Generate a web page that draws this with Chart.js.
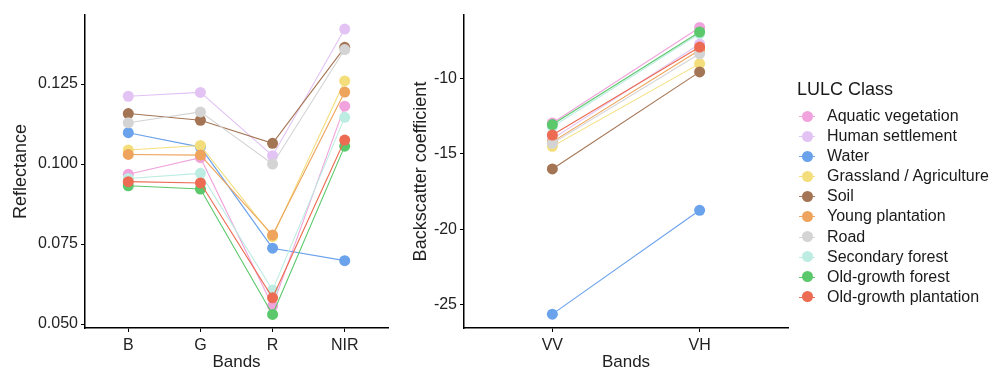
<!DOCTYPE html>
<html>
<head>
<meta charset="utf-8">
<script src="https://cdn.jsdelivr.net/npm/chart.js@4.4.1/dist/chart.umd.min.js"></script>
<style>
  body { margin: 0; background: #fff; font-family: "Liberation Sans", Arial, sans-serif; }
  #wrap { position: relative; width: 992px; height: 373px; overflow: hidden; }
  .panel { position: absolute; top: 0; }
  #legend { position: absolute; left: 797px; top: 76px; color: #1a1a1a; }
  #legend .ttl { font-size: 18px; height: 30px; line-height: 26px; }
  #legend .row { position: relative; height: 20.1px; line-height: 20px; font-size: 16px; padding-left: 30px; white-space: nowrap; }
  #legend .ln { position: absolute; left: 2px; top: 10px; width: 16px; height: 1px; }
  #legend .pt { position: absolute; left: 4.5px; top: 4.5px; width: 11px; height: 11px; border-radius: 50%; }
</style>
</head>
<body>
<div id="wrap">
  <div class="panel" style="left:0"><canvas id="refl" width="400" height="373"></canvas></div>
  <div class="panel" style="left:400px"><canvas id="back" width="400" height="373"></canvas></div>
  <div id="legend"></div>
</div>
<script>
// land use / land cover classes (legend order)
const classes = ['Aquatic vegetation', 'Human settlement', 'Water', 'Grassland / Agriculture', 'Soil',
  'Young plantation', 'Road', 'Secondary forest', 'Old-growth forest', 'Old-growth plantation'];
const colores = ['#F0A3DC', '#E2C3F4', '#6AA2EC', '#F4DE7C', '#A47554',
  '#EEA45C', '#D4D4D4', '#BDEDE2', '#5CC86C', '#EC6B52'];

// optical bands: B, G, R, NIR
const bandasOpticas = ['B', 'G', 'R', 'NIR'];
const reflectancia = [
  [0.0968, 0.1020, 0.0556, 0.1181],  // Aquatic vegetation
  [0.1212, 0.1224, 0.1026, 0.1422],  // Human settlement
  [0.1098, 0.1053, 0.0737, 0.0698],  // Water
  [0.1044, 0.1058, 0.0773, 0.1260],  // Grassland / Agriculture
  [0.1158, 0.1137, 0.1065, 0.1365],  // Soil
  [0.1030, 0.1028, 0.0778, 0.1225],  // Young plantation
  [0.1129, 0.1163, 0.1000, 0.1358],  // Road
  [0.0955, 0.0971, 0.0606, 0.1146],  // Secondary forest
  [0.0932, 0.0922, 0.0530, 0.1056],  // Old-growth forest
  [0.0945, 0.0941, 0.0582, 0.1075]   // Old-growth plantation
];
const ticksRefl = [0.050, 0.075, 0.100, 0.125];

// radar bands: VV, VH
const bandasRadar = ['VV', 'VH'];
const retroespalhamento = [
  [-12.95, -6.60],
  [-14.00, -7.70],
  [-25.65, -18.75],
  [-14.50, -9.00],
  [-16.00, -9.55],
  [-14.20, -8.10],
  [-14.30, -8.35],
  [-13.20, -7.00],
  [-13.05, -6.90],
  [-13.75, -7.90]
];
const ticksBack = [-25, -20, -15, -10];

const corTexto = '#222';
const fonte = 'Liberation Sans, Arial, sans-serif';

function criarPainel(id, bandas, valores, ticksY, yMin, yMax, tituloY, larguraY, casas) {
  const datasets = valores.map(function (serie, i) {
    return {
      label: classes[i],
      data: serie.map(function (v, j) { return { x: j, y: v }; }),
      borderColor: colores[i],
      backgroundColor: colores[i],
      borderWidth: 1.1,
      pointRadius: 5.5,
      pointBorderWidth: 0,
      order: -i
    };
  });

  return new Chart(document.getElementById(id), {
    type: 'line',
    data: { datasets: datasets },
    options: {
      responsive: false,
      animation: false,
      layout: { padding: { top: 15, right: 12, left: 0, bottom: 0 } },
      plugins: { legend: { display: false }, tooltip: { enabled: false } },
      scales: {
        x: {
          type: 'linear',
          min: -0.6,
          max: bandas.length - 1 + 0.6,
          afterBuildTicks: function (s) { s.ticks = bandas.map(function (b, j) { return { value: j }; }); },
          afterFit: function (s) { s.height = 45; },
          ticks: {
            color: corTexto, font: { family: fonte, size: 16 }, padding: 4,
            callback: function (v) { return bandas[v]; }
          },
          grid: { drawOnChartArea: false, drawTicks: true, tickLength: 4, color: '#000' },
          border: { color: '#000', width: 1.5 },
          title: { display: true, text: 'Bands', color: corTexto, font: { family: fonte, size: 17 }, padding: { top: 4, bottom: 0 } }
        },
        y: {
          min: yMin,
          max: yMax,
          afterBuildTicks: function (s) { s.ticks = ticksY.map(function (v) { return { value: v }; }); },
          afterFit: function (s) { s.width = larguraY; },
          ticks: {
            color: corTexto, font: { family: fonte, size: 16 }, padding: 3,
            callback: function (v) { return casas ? v.toFixed(casas) : String(v); }
          },
          grid: { drawOnChartArea: false, drawTicks: true, tickLength: 4, color: '#000' },
          border: { color: '#000', width: 1.5 },
          title: { display: true, text: tituloY, color: corTexto, font: { family: fonte, size: 18 }, padding: { top: 10, bottom: 0 } }
        }
      }
    }
  });
}

criarPainel('refl', bandasOpticas, reflectancia, ticksRefl, 0.04875, 0.1466, 'Reflectance', 85, 3);
criarPainel('back', bandasRadar, retroespalhamento, ticksBack, -26.57, -5.77, 'Backscatter coefficient', 64, 0);

// legend: line + point, like ggplot's key
const legenda = document.getElementById('legend');
let html = '<div class="ttl">LULC Class</div>';
classes.forEach(function (nome, i) {
  html += '<div class="row"><span class="ln" style="background:' + colores[i] + '"></span>' +
    '<span class="pt" style="background:' + colores[i] + '"></span>' + nome + '</div>';
});
legenda.innerHTML = html;
</script>
</body>
</html>
